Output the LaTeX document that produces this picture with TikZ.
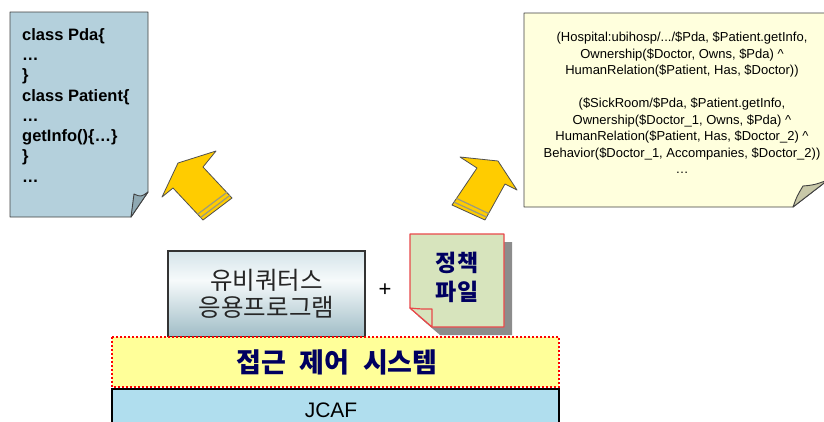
\documentclass[tikz,border=0pt]{standalone}
\usepackage{fontspec}
\setmainfont{Liberation Sans}
\newfontfamily\kr{Noto Sans CJK KR}
\newfontfamily\krwide[WordSpace=2.2]{Noto Sans CJK KR}
\usetikzlibrary{calc}
\definecolor{codebg}{HTML}{B4D0DC}
\definecolor{codefold}{HTML}{8FA9B3}
\definecolor{rulebg}{HTML}{FFFFDD}
\definecolor{rulefold}{HTML}{C8C8A8}
\definecolor{arrowgold}{HTML}{FFCC00}
\definecolor{arrowedge}{HTML}{505050}
\definecolor{stripegray}{HTML}{9A9A80}
\definecolor{apptop}{HTML}{A4C4D0}
\definecolor{appmid}{HTML}{F6FAFB}
\definecolor{appbot}{HTML}{5E8E9E}
\definecolor{policybg}{HTML}{D7E4BD}
\definecolor{policyedge}{HTML}{E8484A}
\definecolor{shadowgray}{HTML}{8C8C8C}
\definecolor{acsbg}{HTML}{FFFF99}
\definecolor{jcafbg}{HTML}{B0DEEE}
\definecolor{navy}{HTML}{000060}
\pgfdeclareverticalshading{appshade}{100bp}{color(0bp)=(appbot); color(58bp)=(appmid); color(100bp)=(apptop)}

\tikzset{
  notebox/.style={draw=black!75, line width=0.9pt, line join=round},
  codetext/.style={inner sep=0pt, align=left, font=\bfseries\fontsize{16.5}{20.3}\selectfont},
  ruletext/.style={inner sep=0pt, align=center, font=\fontsize{13}{16.5}\selectfont},
  arrowbody/.style={fill=arrowgold, draw=arrowedge, line width=0.8pt, line join=round},
  stripe/.style={draw=stripegray, line width=1.2pt},
  appbox/.style={draw=black!80, line width=1.2pt, minimum width=197pt, minimum height=86pt,
    shading=appshade, align=center, text=black!85, font=\kr\fontsize{24.5}{27}\selectfont},
  policytext/.style={align=center, text=navy, font=\kr\bfseries\fontsize{23}{29}\selectfont},
  acsband/.style={fill=acsbg, draw=red, line width=2pt, dash pattern=on 2pt off 2pt},
  jcafband/.style={fill=jcafbg, draw=black, line width=2pt}
}

\begin{document}
\begin{tikzpicture}[x=1pt,y=-1pt]
\useasboundingbox (0,0) rectangle (824,421);
\clip (0,0) rectangle (824,421);

% code note
\draw[notebox, fill=codebg] (10,12) -- (148,12) -- (148,192) -- (131,217) -- (10,217) -- cycle;
\draw[notebox, fill=codefold] (131,217) .. controls (132,205) .. (134,194) .. controls (141,197) .. (148,192) -- cycle;
\node[codetext, anchor=north west] (code) at (22,28)
  {class Pda\{\\…\\\}\\class Patient\{\\…\\getInfo()\{…\}\\\}\\…};

% rule note
\draw[notebox, fill=rulebg] (524,13) -- (828,13) -- (828,180) -- (793,207) -- (524,207) -- cycle;
\draw[notebox, fill=rulefold] (793,207) .. controls (797,196) .. (803,186) .. controls (814,185) .. (828,180) -- cycle;
\node[ruletext, anchor=north] (rule) at (682,32)
  {(Hospital:ubihosp/.../\$Pda, \$Patient.getInfo,\\
   Ownership(\$Doctor, Owns, \$Pda) \textasciicircum\\
   HumanRelation(\$Patient, Has, \$Doctor))\\[16.5pt]
   (\$SickRoom/\$Pda, \$Patient.getInfo,\\
   Ownership(\$Doctor\_1, Owns, \$Pda) \textasciicircum\\
   HumanRelation(\$Patient, Has, \$Doctor\_2) \textasciicircum\\
   Behavior(\$Doctor\_1, Accompanies, \$Doctor\_2))\\
   …};

% arrows
\coordinate (la1) at (162,197);
\coordinate (la2) at (178,163);
\coordinate (la3) at (216,151);
\coordinate (la4) at (203,167);
\coordinate (la5) at (232,198);
\coordinate (la6) at (203,220);
\coordinate (la7) at (173,188);
\coordinate (ra1) at (460,157);
\coordinate (ra2) at (498,161);
\coordinate (ra3) at (517,190);
\coordinate (ra4) at (505,184);
\coordinate (ra5) at (485,220);
\coordinate (ra6) at (452,205);
\coordinate (ra7) at (477,168);
\foreach \a in {la,ra}{
  \draw[arrowbody] (\a1) -- (\a2) -- (\a3) -- (\a4) -- (\a5) -- (\a6) -- (\a7) -- cycle;
  \foreach \t in {0.08,0.18}
    \draw[stripe] ($(\a5)!\t!(\a4)$) -- ($(\a6)!\t!(\a7)$);
}

% application and policy file
\node[appbox] (app) at (266.5,294) {유비쿼터스\\응용프로그램};
\node[font=\fontsize{22}{22}\selectfont] (plus) at (385,290) {+};
\fill[shadowgray, shift={(8,8)}] (410,234) -- (504,234) -- (504,327) -- (432,327) -- (410,308) -- cycle;
\draw[fill=policybg, draw=policyedge, line width=1.2pt, line join=round]
  (410,234) -- (504,234) -- (504,327) -- (432,327) -- (410,308) -- cycle;
\draw[fill=policybg, draw=policyedge, line width=1.2pt, line join=round]
  (410,308) .. controls (420,309) .. (432,309) -- (432,327) -- cycle;
\node[policytext] (policy) at (457,277) {정책\\파일};

% layers
\draw[acsband] (112,337) rectangle (559,387);
\node[text=navy, font=\krwide\bfseries\fontsize{27}{27}\selectfont] (acs) at (337,362) {접근 제어 시스템};
\draw[jcafband] (112,389) rectangle (559,432);
\node[anchor=base, font=\fontsize{21}{21}\selectfont] (jcaf) at (331,417) {JCAF};
\end{tikzpicture}
\end{document}
